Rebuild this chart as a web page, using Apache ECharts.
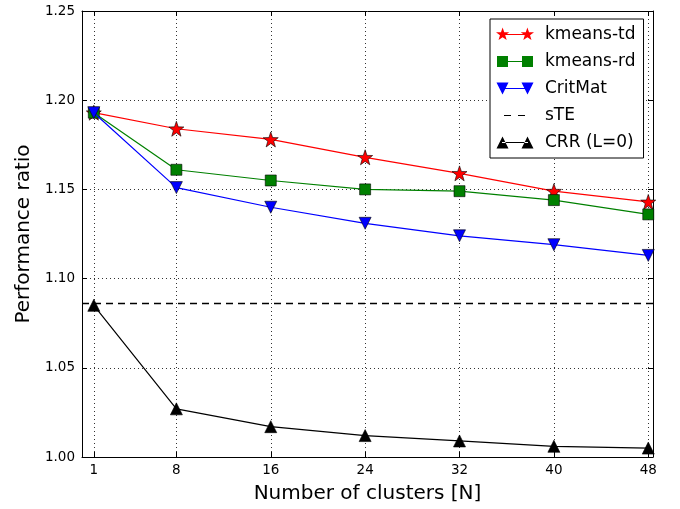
<!DOCTYPE html>
<html>
<head>
<meta charset="utf-8">
<script src="https://cdn.jsdelivr.net/npm/echarts@6/dist/echarts.min.js"></script>
<style>
  html, body { margin: 0; padding: 0; background: #fff; }
  #chart { width: 680px; height: 509px; }
</style>
</head>
<body>
<div id="chart"></div>
<script>
// data
var clusterCounts = [1, 8, 16, 24, 32, 40, 48];
var kmeansTd = [1.193, 1.184, 1.178, 1.168, 1.159, 1.149, 1.143];
var kmeansRd = [1.193, 1.161, 1.155, 1.150, 1.149, 1.144, 1.136];
var critMat = [1.193, 1.151, 1.140, 1.131, 1.124, 1.119, 1.113];
var steValue = 1.086;
var crrValues = [1.085, 1.027, 1.017, 1.012, 1.009, 1.006, 1.005];
var yTicks = [1.00, 1.05, 1.10, 1.15, 1.20, 1.25];

(function() {
  var font = 'DejaVu Sans';

  // marker shapes
  function star(cx, cy, R, r) {
    var d = '';
    for (var k = 0; k < 10; k++) {
      var a = (-90 + 36 * k) * Math.PI / 180;
      var rad = k % 2 === 0 ? R : r;
      d += (k === 0 ? 'M' : 'L') + (cx + rad * Math.cos(a)).toFixed(2) + ' ' + (cy + rad * Math.sin(a)).toFixed(2);
    }
    return d + 'Z';
  }
  function square(cx, cy, h) {
    return 'M' + (cx - h) + ' ' + (cy - h) + 'H' + (cx + h) + 'V' + (cy + h) + 'H' + (cx - h) + 'Z';
  }
  function triUp(cx, cy, h) {
    return 'M' + (cx - h) + ' ' + (cy + h) + 'H' + (cx + h) + 'L' + cx + ' ' + (cy - h) + 'Z';
  }
  function triDown(cx, cy, h) {
    return 'M' + (cx - h) + ' ' + (cy - h) + 'H' + (cx + h) + 'L' + cx + ' ' + (cy + h) + 'Z';
  }
  var bar = 'M6 6.5H32V7.5H6Z';
  var corners = 'M0 0L0.01 0L0 0.01Z M38 14L37.99 14L38 13.99Z';
  function legendIcon(fn) {
    return 'path://' + corners + fn(6.5, 7) + fn(31.5, 7) + bar;
  }

  var icons = {
    td: legendIcon(function(x, y) { return star(x, y, 7, 2.8); }),
    rd: legendIcon(function(x, y) { return square(x, y, 5.5); }),
    cm: legendIcon(function(x, y) { return triDown(x, y, 6); }),
    ste: 'path://' + corners + 'M8 6.5H15V7.5H8Z M22 6.5H29V7.5H22Z',
    crr: legendIcon(function(x, y) { return triUp(x, y, 6); })
  };

  function pairs(vals) {
    return clusterCounts.map(function(x, i) { return [x, vals[i]]; });
  }

  var chart = echarts.init(document.getElementById('chart'), null, { renderer: 'canvas' });

  var grid = { left: 82, top: 11, right: 27, bottom: 52 };
  var gridLine = { show: true, lineStyle: { color: '#000', type: [1, 3], width: 1, opacity: 0.8 } };
  var axisLine = { show: true, onZero: false, lineStyle: { color: '#000', width: 1 } };

  chart.setOption({
    animation: false,
    backgroundColor: '#fff',
    textStyle: { fontFamily: font },
    grid: grid,
    legend: {
      orient: 'vertical',
      left: 490,
      top: 19,
      align: 'left',
      itemWidth: 38,
      itemHeight: 14,
      itemGap: 10,
      padding: [7, 8, 7, 6],
      backgroundColor: '#fff',
      borderColor: '#000',
      borderWidth: 1,
      borderRadius: 0,
      itemStyle: { borderWidth: 0 },
      lineStyle: { width: 0 },
      textStyle: { fontFamily: font, fontSize: 17, color: '#000', padding: [0, 0, 0, 6] },
      data: [
        { name: 'kmeans-td', icon: icons.td },
        { name: 'kmeans-rd', icon: icons.rd },
        { name: 'CritMat', icon: icons.cm },
        { name: 'sTE', icon: icons.ste },
        { name: 'CRR (L=0)', icon: icons.crr }
      ]
    },
    xAxis: [
      {
        type: 'value',
        min: 0,
        max: 48.4,
        name: 'Number of clusters [N]',
        nameLocation: 'middle',
        nameGap: 27,
        nameTextStyle: { fontFamily: font, fontSize: 20, color: '#000' },
        axisLine: axisLine,
        axisTick: { show: true, inside: true, length: 5, customValues: clusterCounts, lineStyle: { color: '#000' } },
        axisLabel: { show: true, customValues: clusterCounts, color: '#000', fontSize: 13.5, fontFamily: font, margin: 6 },
        splitLine: gridLine
      },
      {
        type: 'value',
        position: 'top',
        min: 0,
        max: 48.4,
        axisLine: axisLine,
        axisTick: { show: true, inside: true, length: 5, customValues: clusterCounts, lineStyle: { color: '#000' } },
        axisLabel: { show: false, customValues: clusterCounts },
        splitLine: { show: false }
      }
    ],
    yAxis: [
      {
        type: 'value',
        min: 1.0,
        max: 1.25,
        interval: 0.05,
        name: 'Performance ratio',
        nameLocation: 'middle',
        nameGap: 41,
        nameTextStyle: { fontFamily: font, fontSize: 20, color: '#000' },
        axisLine: axisLine,
        axisTick: { show: true, inside: true, length: 5, lineStyle: { color: '#000' } },
        axisLabel: {
          color: '#000', fontSize: 13.5, fontFamily: font, margin: 7,
          formatter: function(v) { return v.toFixed(2); }
        },
        splitLine: gridLine
      },
      {
        type: 'value',
        position: 'right',
        min: 1.0,
        max: 1.25,
        interval: 0.05,
        axisLine: axisLine,
        axisTick: { show: true, inside: true, length: 5, lineStyle: { color: '#000' } },
        axisLabel: { show: false },
        splitLine: { show: false }
      }
    ],
    series: [
      {
        name: 'kmeans-td',
        type: 'line',
        data: pairs(kmeansTd),
        symbol: 'path://' + star(0, 0, 7, 2.8),
        symbolSize: 15,
        lineStyle: { color: '#ff0000', width: 1.2 },
        itemStyle: { color: '#ff0000', borderColor: '#000', borderWidth: 0.6 },
        z: 2
      },
      {
        name: 'kmeans-rd',
        type: 'line',
        data: pairs(kmeansRd),
        symbol: 'rect',
        symbolSize: 11,
        lineStyle: { color: '#008000', width: 1.2 },
        itemStyle: { color: '#008000', borderColor: '#000', borderWidth: 0.6 },
        z: 3
      },
      {
        name: 'CritMat',
        type: 'line',
        data: pairs(critMat),
        symbol: 'path://' + triDown(0, 0, 6),
        symbolSize: 12,
        lineStyle: { color: '#0000ff', width: 1.2 },
        itemStyle: { color: '#0000ff', borderColor: '#000', borderWidth: 0.6 },
        z: 4
      },
      {
        name: 'sTE',
        type: 'line',
        data: [],
        symbol: 'none',
        lineStyle: { color: '#000', width: 1.2, type: [6, 5] },
        itemStyle: { color: '#000' },
        markLine: {
          silent: true,
          precision: 4,
          symbol: ['none', 'none'],
          label: { show: false },
          lineStyle: { color: '#000', width: 1.3, type: [7, 5] },
          data: [{ yAxis: steValue }]
        },
        z: 5
      },
      {
        name: 'CRR (L=0)',
        type: 'line',
        data: pairs(crrValues),
        symbol: 'path://' + triUp(0, 0, 6),
        symbolSize: 12,
        lineStyle: { color: '#000', width: 1.2 },
        itemStyle: { color: '#000', borderColor: '#000', borderWidth: 0.6 },
        z: 6
      }
    ]
  });

  window.addEventListener('resize', function() { chart.resize(); });
})();
</script>
</body>
</html>
